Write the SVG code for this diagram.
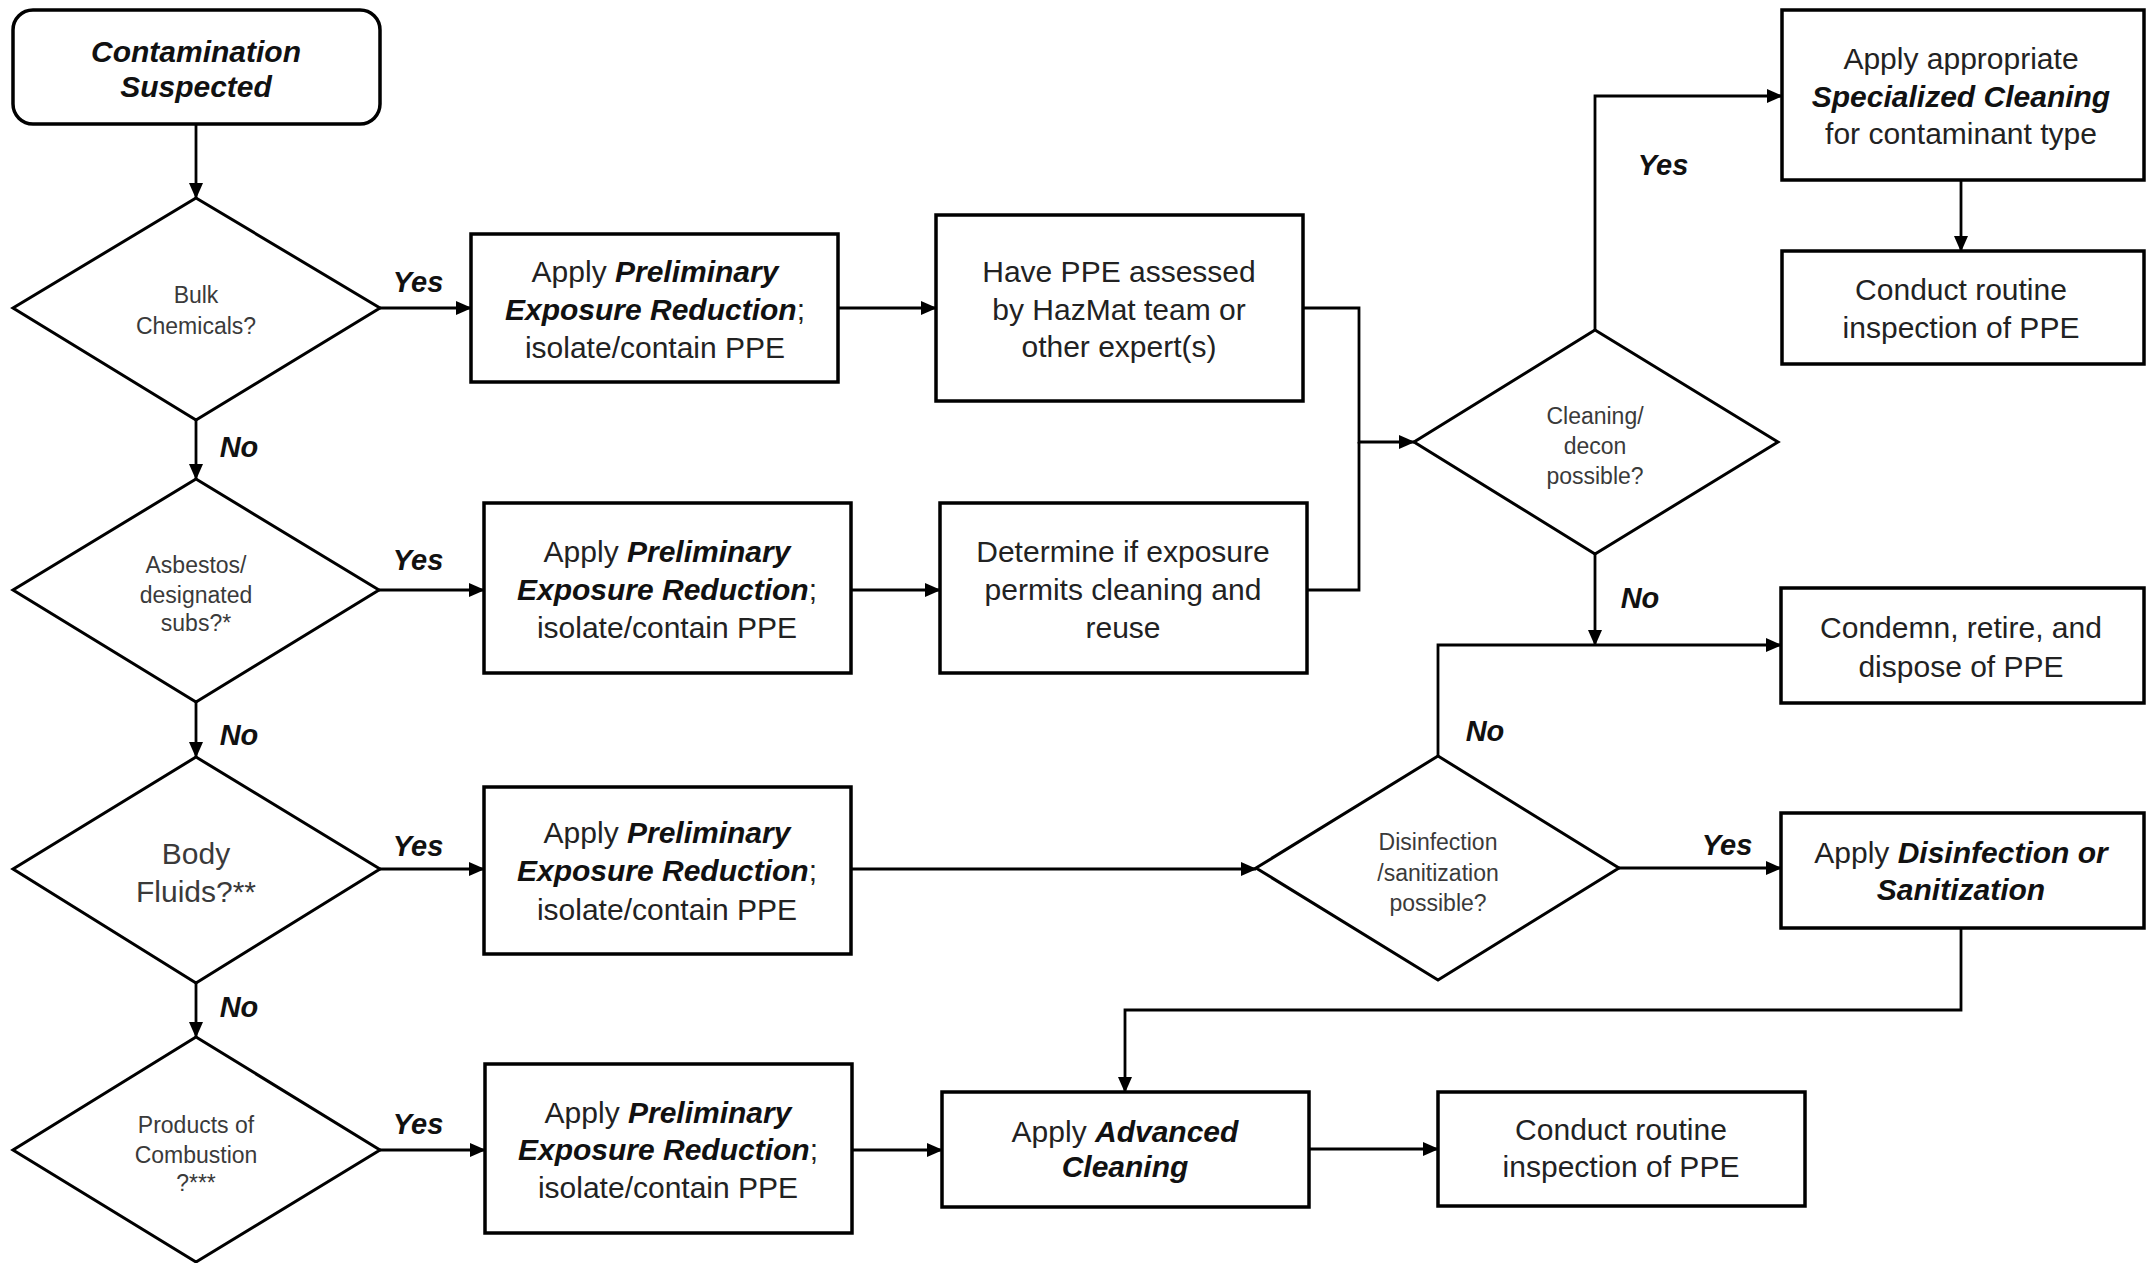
<svg xmlns="http://www.w3.org/2000/svg" width="2146" height="1263" viewBox="0 0 2146 1263">
<defs>
<marker id="arr" markerUnits="userSpaceOnUse" markerWidth="16" markerHeight="14" refX="15" refY="7" orient="auto">
<path d="M0,0 L16,7 L0,14 Z" fill="#000"/>
</marker>
<style>
.box{fill:#fff;stroke:#000;stroke-width:3.5}
.dia{fill:#fff;stroke:#000;stroke-width:3}
.t{font-family:"Liberation Sans",Arial,sans-serif;font-size:30px;fill:#222;text-anchor:middle}
.d{font-family:"Liberation Sans",Arial,sans-serif;font-size:23px;fill:#3a3a3a;text-anchor:middle}
.bi{font-weight:bold;font-style:italic;fill:#111}
.lb{font-family:"Liberation Sans",Arial,sans-serif;font-size:29px;font-weight:bold;font-style:italic;fill:#111;text-anchor:middle}
.c{fill:none;stroke:#000;stroke-width:2.8}
</style>
</defs>
<rect width="2146" height="1263" fill="#fff"/>

<g id="connectors">
<path class="c" d="M196,124 V198" marker-end="url(#arr)"/>
<path class="c" d="M196,420 V479" marker-end="url(#arr)"/>
<path class="c" d="M196,702 V757" marker-end="url(#arr)"/>
<path class="c" d="M196,983 V1037" marker-end="url(#arr)"/>
<path class="c" d="M380,308 H471" marker-end="url(#arr)"/>
<path class="c" d="M379,590 H484" marker-end="url(#arr)"/>
<path class="c" d="M380,869 H484" marker-end="url(#arr)"/>
<path class="c" d="M380,1150 H485" marker-end="url(#arr)"/>
<path class="c" d="M838,308 H936" marker-end="url(#arr)"/>
<path class="c" d="M851,590 H940" marker-end="url(#arr)"/>
<path class="c" d="M1303,308 H1359 V442 H1414" marker-end="url(#arr)"/>
<path class="c" d="M1307,590 H1359 V442"/>
<path class="c" d="M1595,330 V96 H1782" marker-end="url(#arr)"/>
<path class="c" d="M1961,180 V251" marker-end="url(#arr)"/>
<path class="c" d="M1595,554 V645" marker-end="url(#arr)"/>
<path class="c" d="M1438,756 V645 H1781" marker-end="url(#arr)"/>
<path class="c" d="M851,869 H1256" marker-end="url(#arr)"/>
<path class="c" d="M1619,868 H1781" marker-end="url(#arr)"/>
<path class="c" d="M1961,928 V1010 H1125 V1092" marker-end="url(#arr)"/>
<path class="c" d="M852,1150 H942" marker-end="url(#arr)"/>
<path class="c" d="M1309,1149 H1438" marker-end="url(#arr)"/>
</g>

<g id="labels">
<text class="lb" x="418" y="292">Yes</text>
<text class="lb" x="418" y="570">Yes</text>
<text class="lb" x="418" y="856">Yes</text>
<text class="lb" x="418" y="1134">Yes</text>
<text class="lb" x="239" y="457">No</text>
<text class="lb" x="239" y="745">No</text>
<text class="lb" x="239" y="1017">No</text>
<text class="lb" x="1663" y="175">Yes</text>
<text class="lb" x="1640" y="608">No</text>
<text class="lb" x="1485" y="741">No</text>
<text class="lb" x="1727" y="855">Yes</text>
</g>

<g id="start">
<rect class="box" x="13" y="10" width="367" height="114" rx="20" ry="20"/>
<text class="t bi" x="196" y="62">Contamination</text>
<text class="t bi" x="196" y="97">Suspected</text>
</g>

<g id="bulk">
<polygon class="dia" points="196,198 380,308 196,420 13,308"/>
<text class="d" x="196" y="303">Bulk</text>
<text class="d" x="196" y="334">Chemicals?</text>
</g>

<g id="asbestos">
<polygon class="dia" points="196,479 379,590 196,702 13,590"/>
<text class="d" x="196" y="573">Asbestos/</text>
<text class="d" x="196" y="603">designated</text>
<text class="d" x="196" y="631">subs?*</text>
</g>

<g id="body">
<polygon class="dia" points="196,757 380,869 196,983 13,869"/>
<text class="d" x="196" y="864" style="font-size:30px">Body</text>
<text class="d" x="196" y="902" style="font-size:30px">Fluids?**</text>
</g>

<g id="products">
<polygon class="dia" points="196,1037 380,1150 196,1262 13,1150"/>
<text class="d" x="196" y="1133">Products of</text>
<text class="d" x="196" y="1163">Combustion</text>
<text class="d" x="196" y="1191">?***</text>
</g>

<g id="per1">
<rect class="box" x="471" y="234" width="367" height="148"/>
<text class="t" x="655" y="282">Apply <tspan class="bi">Preliminary</tspan></text>
<text class="t" x="655" y="320"><tspan class="bi">Exposure Reduction</tspan>;</text>
<text class="t" x="655" y="358">isolate/contain PPE</text>
</g>

<g id="per2">
<rect class="box" x="484" y="503" width="367" height="170"/>
<text class="t" x="667" y="562">Apply <tspan class="bi">Preliminary</tspan></text>
<text class="t" x="667" y="600"><tspan class="bi">Exposure Reduction</tspan>;</text>
<text class="t" x="667" y="638">isolate/contain PPE</text>
</g>

<g id="per3">
<rect class="box" x="484" y="787" width="367" height="167"/>
<text class="t" x="667" y="843">Apply <tspan class="bi">Preliminary</tspan></text>
<text class="t" x="667" y="881"><tspan class="bi">Exposure Reduction</tspan>;</text>
<text class="t" x="667" y="920">isolate/contain PPE</text>
</g>

<g id="per4">
<rect class="box" x="485" y="1064" width="367" height="169"/>
<text class="t" x="668" y="1123">Apply <tspan class="bi">Preliminary</tspan></text>
<text class="t" x="668" y="1160"><tspan class="bi">Exposure Reduction</tspan>;</text>
<text class="t" x="668" y="1198">isolate/contain PPE</text>
</g>

<g id="assessed">
<rect class="box" x="936" y="215" width="367" height="186"/>
<text class="t" x="1119" y="282">Have  PPE assessed</text>
<text class="t" x="1119" y="320">by HazMat team or</text>
<text class="t" x="1119" y="357">other expert(s)</text>
</g>

<g id="determine">
<rect class="box" x="940" y="503" width="367" height="170"/>
<text class="t" x="1123" y="562">Determine if exposure</text>
<text class="t" x="1123" y="600">permits cleaning and</text>
<text class="t" x="1123" y="638">reuse</text>
</g>

<g id="cleaning">
<polygon class="dia" points="1595,330 1778,442 1595,554 1414,442"/>
<text class="d" x="1595" y="424">Cleaning/</text>
<text class="d" x="1595" y="454">decon</text>
<text class="d" x="1595" y="484">possible?</text>
</g>

<g id="specialized">
<rect class="box" x="1782" y="10" width="362" height="170"/>
<text class="t" x="1961" y="69">Apply appropriate</text>
<text class="t bi" x="1961" y="107">Specialized Cleaning</text>
<text class="t" x="1961" y="144">for contaminant type</text>
</g>

<g id="routine1">
<rect class="box" x="1782" y="251" width="362" height="113"/>
<text class="t" x="1961" y="300">Conduct routine</text>
<text class="t" x="1961" y="338">inspection of PPE</text>
</g>

<g id="condemn">
<rect class="box" x="1781" y="588" width="363" height="115"/>
<text class="t" x="1961" y="638">Condemn, retire, and</text>
<text class="t" x="1961" y="677">dispose of PPE</text>
</g>

<g id="disinfection">
<polygon class="dia" points="1438,756 1619,868 1438,980 1256,868"/>
<text class="d" x="1438" y="850">Disinfection</text>
<text class="d" x="1438" y="881">/sanitization</text>
<text class="d" x="1438" y="911">possible?</text>
</g>

<g id="disinfect-box">
<rect class="box" x="1781" y="813" width="363" height="115"/>
<text class="t" x="1961" y="863">Apply <tspan class="bi">Disinfection or</tspan></text>
<text class="t bi" x="1961" y="900">Sanitization</text>
</g>

<g id="advanced">
<rect class="box" x="942" y="1092" width="367" height="115"/>
<text class="t" x="1125" y="1142">Apply <tspan class="bi">Advanced</tspan></text>
<text class="t bi" x="1125" y="1177">Cleaning</text>
</g>

<g id="routine2">
<rect class="box" x="1438" y="1092" width="367" height="114"/>
<text class="t" x="1621" y="1140">Conduct routine</text>
<text class="t" x="1621" y="1177">inspection of PPE</text>
</g>
</svg>
